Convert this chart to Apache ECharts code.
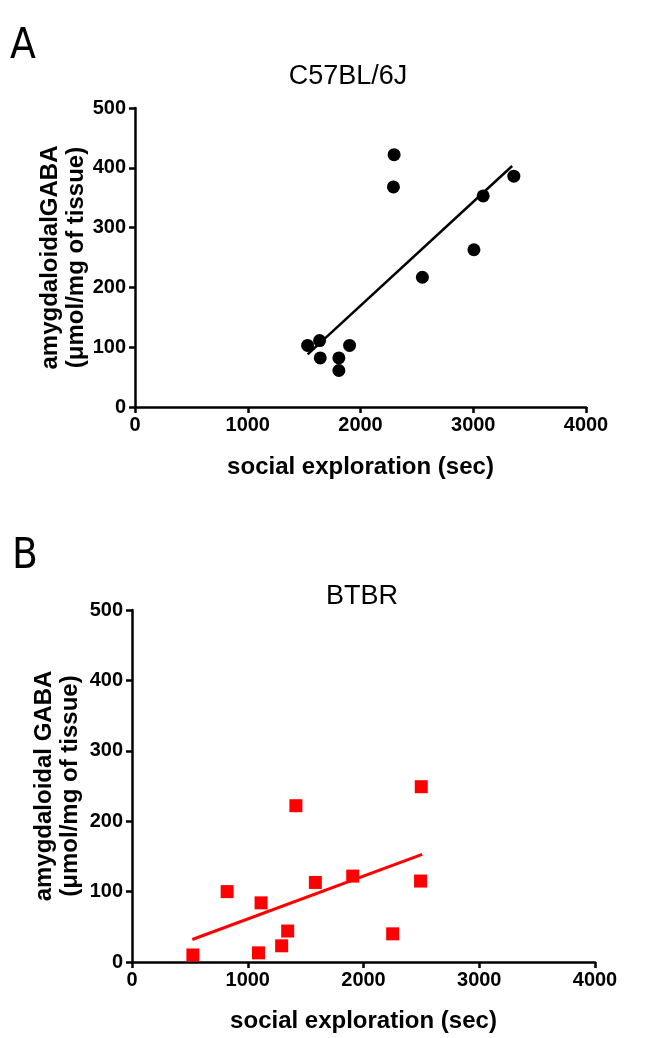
<!DOCTYPE html>
<html>
<head>
<meta charset="utf-8">
<script src="https://cdn.jsdelivr.net/npm/echarts@6/dist/echarts.min.js"></script>
<style>
html,body{margin:0;padding:0;background:#fff;}
#chart{width:649px;height:1038px;}
</style>
</head>
<body>
<div id="chart"></div>
<script>
// Panel A: C57BL/6J
const c57Explore = [2298, 2292, 3360, 3088, 3006, 2549, 1531, 1637, 1903, 1643, 1808, 1808];
const c57Gaba    = [422, 368, 386, 353, 263, 217, 103, 111, 103, 82, 82, 61];
const c57FitX    = [1531, 3345];
const c57FitY    = [88, 403];

// Panel B: BTBR
const btbrExplore = [526, 822, 1115, 1093, 1293, 1345, 1416, 1584, 1907, 2252, 2499, 2493];
const btbrGaba    = [10, 100, 84, 13, 23, 44, 222, 113, 122, 40, 249, 115];
const btbrFitX    = [521, 2507];
const btbrFitY    = [32, 153];

const xTicks = [0, 1000, 2000, 3000, 4000];
const yTicks = [0, 100, 200, 300, 400, 500];
const panelTitles = ['C57BL/6J', 'BTBR'];
const panelLetters = ['A', 'B'];
const xName = 'social exploration (sec)';
const yNames = ['amygdaloidalGABA\n(\u03bcmol/mg of tissue)', 'amygdaloidal GABA\n(\u03bcmol/mg of tissue)'];

const pairs = (xs, ys) => xs.map((x, i) => [x, ys[i]]);

const FONT = '"Liberation Sans", Arial, sans-serif';
const axisLine = { show: true, onZero: false, lineStyle: { color: '#000', width: 2.5 } };
const axisTick = { show: true, length: 6, inside: false, lineStyle: { color: '#000', width: 2.5 } };
const tickLabel = { color: '#000', fontFamily: FONT, fontWeight: 'bold', fontSize: 20, formatter: v => String(v) };
const nameStyle = { color: '#000', fontFamily: FONT, fontWeight: 'bold', fontSize: 24, lineHeight: 26 };

function xAxis(gi, gap) {
  return {
    type: 'value', gridIndex: gi, min: xTicks[0], max: xTicks[xTicks.length - 1], interval: 1000,
    axisLine, axisTick, splitLine: { show: false },
    axisLabel: Object.assign({ margin: 8 }, tickLabel),
    name: xName, nameLocation: 'middle', nameGap: gap, nameMoveOverlap: false, nameTextStyle: nameStyle
  };
}
function yAxis(gi, gap) {
  return {
    type: 'value', gridIndex: gi, min: yTicks[0], max: yTicks[yTicks.length - 1], interval: 100,
    axisLine, axisTick, splitLine: { show: false },
    axisLabel: Object.assign({ margin: 9 }, tickLabel),
    name: yNames[gi], nameLocation: 'middle', nameGap: gap, nameRotate: 90, nameMoveOverlap: false, nameTextStyle: nameStyle
  };
}

const chart = echarts.init(document.getElementById('chart'), null, { renderer: 'canvas' });
chart.setOption({
  backgroundColor: '#fff',
  animation: false,
  grid: [
    { left: 135, top: 108, width: 451, height: 299 },
    { left: 132, top: 610, width: 463, height: 352 }
  ],
  xAxis: [xAxis(0, 47), xAxis(1, 46)],
  yAxis: [yAxis(0, 46), yAxis(1, 49)],
  graphic: [
    { type: 'text', left: 10, top: 26, style: { text: panelLetters[0], fontFamily: '"Liberation Sans Narrow", "DejaVu Sans Condensed", sans-serif', fontSize: 42, fill: '#000' } },
    { type: 'text', left: 12, top: 536, style: { text: panelLetters[1], fontFamily: '"Liberation Sans Narrow", "DejaVu Sans Condensed", sans-serif', fontSize: 42, fill: '#000' } },
    { type: 'text', x: 348, y: 77, style: { text: panelTitles[0], fontFamily: FONT, fontSize: 27, fill: '#000', align: 'center', verticalAlign: 'middle' } },
    { type: 'text', x: 362, y: 597, style: { text: panelTitles[1], fontFamily: FONT, fontSize: 27, fill: '#000', align: 'center', verticalAlign: 'middle' } }
  ],
  series: [
    { type: 'scatter', xAxisIndex: 0, yAxisIndex: 0, data: pairs(c57Explore, c57Gaba), symbol: 'circle', symbolSize: 13, itemStyle: { color: '#000', opacity: 1 }, z: 3 },
    { type: 'line', xAxisIndex: 0, yAxisIndex: 0, data: pairs(c57FitX, c57FitY), symbol: 'none', lineStyle: { color: '#000', width: 2.5 }, z: 2 },
    { type: 'scatter', xAxisIndex: 1, yAxisIndex: 1, data: pairs(btbrExplore, btbrGaba), symbol: 'rect', symbolSize: 13, itemStyle: { color: '#ff0000', opacity: 1 }, z: 3 },
    { type: 'line', xAxisIndex: 1, yAxisIndex: 1, data: pairs(btbrFitX, btbrFitY), symbol: 'none', lineStyle: { color: '#ff0000', width: 3 }, z: 2 }
  ]
});
</script>
</body>
</html>
